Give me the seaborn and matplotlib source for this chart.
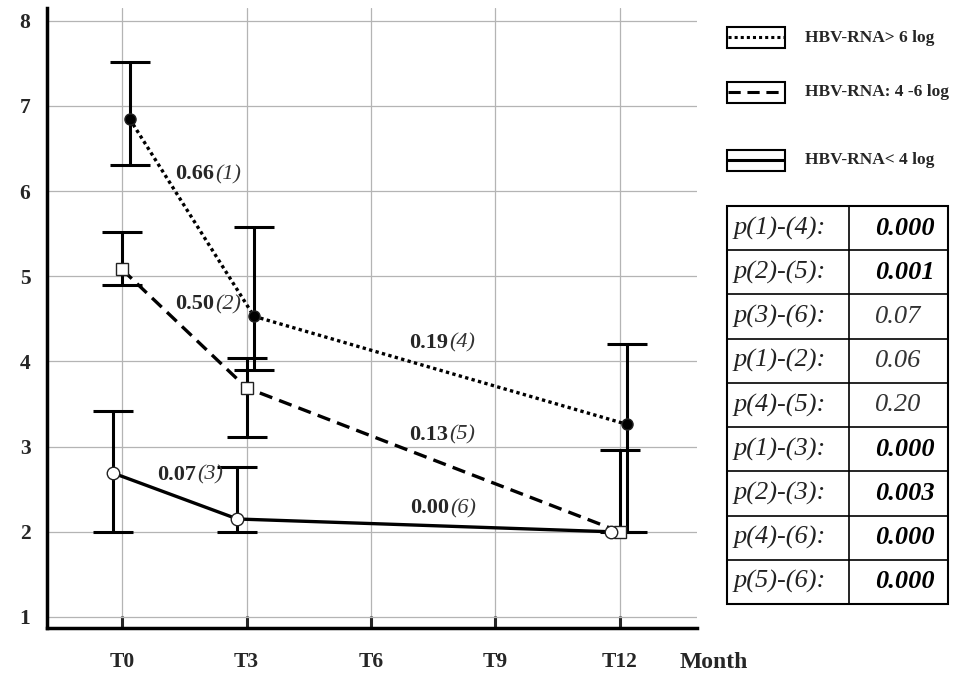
import numpy as np
import pandas as pd
import seaborn as sns
import matplotlib.pyplot as plt
from matplotlib.patches import Rectangle

sns.set_style("white")
plt.rcParams['font.family'] = ['Liberation Serif', 'DejaVu Serif']

# DATA
months = [0, 3, 12]
month_ticks = [0, 3, 6, 9, 12]
month_labels = ["T0", "T3", "T6", "T9", "T12"]

high_mean = [6.85, 4.53, 3.26]
high_lo   = [6.31, 3.90, 2.00]
high_hi   = [7.52, 5.58, 4.20]

mid_mean = [5.08, 3.69, 2.00]
mid_lo   = [4.90, 3.11, 2.00]
mid_hi   = [5.52, 4.04, 2.96]

low_mean = [2.69, 2.15, 2.00]
low_lo   = [2.00, 2.00, 2.00]
low_hi   = [3.42, 2.76, 2.00]

series_names = ["HBV-RNA> 6 log", "HBV-RNA: 4 -6 log", "HBV-RNA< 4 log"]

slope_labels = ["0.66", "0.50", "0.07", "0.19", "0.13", "0.00"]
slope_tags   = ["(1)", "(2)", "(3)", "(4)", "(5)", "(6)"]
slope_pos    = [(1.28, 6.14), (1.28, 4.61), (0.84, 2.61),
                (6.92, 4.16), (6.92, 3.08), (6.94, 2.22)]

p_labels = ["p(1)-(4):", "p(2)-(5):", "p(3)-(6):", "p(1)-(2):", "p(4)-(5):",
            "p(1)-(3):", "p(2)-(3):", "p(4)-(6):", "p(5)-(6):"]
p_values = ["0.000", "0.001", "0.07", "0.06", "0.20",
            "0.000", "0.003", "0.000", "0.000"]
p_signif = [True, True, False, False, False, True, True, True, True]


W, H = 963, 676
fig = plt.figure(figsize=(W / 100, H / 100), dpi=100)
ax = fig.add_axes([47 / W, (H - 628) / H, 650 / W, 620 / H])

styles = [
    dict(mean=high_mean, lo=high_lo, hi=high_hi, off=0.18, ls=(0, (1, 1.0)),
         marker="o", mfc="black", ms=8),
    dict(mean=mid_mean, lo=mid_lo, hi=mid_hi, off=0.0, ls=(0, (4, 2.2)),
         marker="s", mfc="white", ms=8),
    dict(mean=low_mean, lo=low_lo, hi=low_hi, off=-0.22, ls="-",
         marker="o", mfc="white", ms=9),
]

for name, st in zip(series_names, styles):
    x = np.array(months, dtype=float) + st["off"]
    y = np.array(st["mean"])
    lo = np.array(st["lo"])
    hi = np.array(st["hi"])
    keep = (hi - lo) > 0
    ax.errorbar(x[keep], y[keep], yerr=[y[keep] - lo[keep], hi[keep] - y[keep]],
                fmt="none", ecolor="black", elinewidth=2.2, capsize=14.5,
                capthick=2.2, zorder=3)
    df = pd.DataFrame({"x": x, "y": y})
    sns.lineplot(data=df, x="x", y="y", ax=ax, sort=False, errorbar=None,
                 color="black", linestyle=st["ls"], linewidth=2.4,
                 marker=st["marker"], markersize=st["ms"],
                 markerfacecolor=st["mfc"], markeredgecolor="#222222",
                 markeredgewidth=1.0, zorder=4)

# slope annotations
for lab, tag, (px, py) in zip(slope_labels, slope_tags, slope_pos):
    t = ax.text(px, py, lab, fontsize=16, fontweight="bold", ha="left",
                va="baseline", zorder=5)
    ax.annotate(tag, xy=(1, 0), xycoords=t, xytext=(1, 0),
                textcoords="offset points", fontsize=16, fontstyle="italic",
                color="#333333", va="bottom", ha="left")

ax.set_xlim(-1.81, 13.86)
ax.set_ylim(0.87, 8.15)
ax.set_xticks(month_ticks)
ax.set_xticklabels(month_labels)
ax.set_yticks(range(1, 9))
ax.set_yticks(np.arange(1.5, 8, 1.0), minor=True)
ax.grid(True, which="major", color="#b4b4b4", linewidth=0.9)
ax.set_axisbelow(True)
for s in ["top", "right"]:
    ax.spines[s].set_visible(False)
for s in ["left", "bottom"]:
    ax.spines[s].set_linewidth(2.5)
    ax.spines[s].set_color("black")
ax.tick_params(axis="y", which="major", direction="in", length=12, width=2.2,
               labelsize=15.5, pad=12)
ax.tick_params(axis="y", which="minor", direction="in", length=5, width=1,
               color="#bbbbbb")
ax.tick_params(axis="x", which="major", direction="in", length=9, width=2.2,
               labelsize=15.5, pad=17, bottom=True)
for lbl in ax.get_xticklabels() + ax.get_yticklabels():
    lbl.set_fontweight("bold")
ax.set_xlabel("")
ax.set_ylabel("")
fig.text(680 / W, 1 - 662 / H, "Month", fontsize=17, fontweight="bold",
         ha="left", va="center")

# legend boxes
lax = fig.add_axes([700 / W, 1 - 200 / H, 263 / W, 200 / H])
lax.set_xlim(0, 263)
lax.set_ylim(200, 0)
lax.axis("off")
box_tops = [27, 82, 150]
for name, st, top in zip(series_names, styles, box_tops):
    lax.add_patch(Rectangle((27, top), 58, 21, fill=False, edgecolor="black",
                            linewidth=1.5))
    lax.plot([28, 84], [top + 10.5, top + 10.5], color="black",
             linestyle=st["ls"], linewidth=2.2)
    lax.text(105, top + 10.5, name, fontsize=12.5, fontweight="bold",
             ha="left", va="center")

# p-value table
tax = fig.add_axes([727 / W, (H - 604) / H, 221 / W, 398 / H])
tax.set_xlim(0, 221)
tax.set_ylim(len(p_labels), 0)
tax.axis("off")
tax.add_patch(Rectangle((0, 0), 221, len(p_labels), fill=False,
                        edgecolor="black", linewidth=1.5, clip_on=False))
tax.plot([122, 122], [0, len(p_labels)], color="black", linewidth=1.2)
for i in range(1, len(p_labels)):
    tax.plot([0, 221], [i, i], color="black", linewidth=1.2)
for i, (lab, val, sig) in enumerate(zip(p_labels, p_values, p_signif)):
    tax.text(7, i + 0.5, lab, fontsize=19, fontstyle="italic", ha="left",
             va="center", color="#222222")
    tax.text(148, i + 0.5, val, fontsize=19, fontstyle="italic",
             fontweight="bold" if sig else "normal", ha="left", va="center",
             color="black" if sig else "#333333")

fig.savefig("out.png", dpi=100)
